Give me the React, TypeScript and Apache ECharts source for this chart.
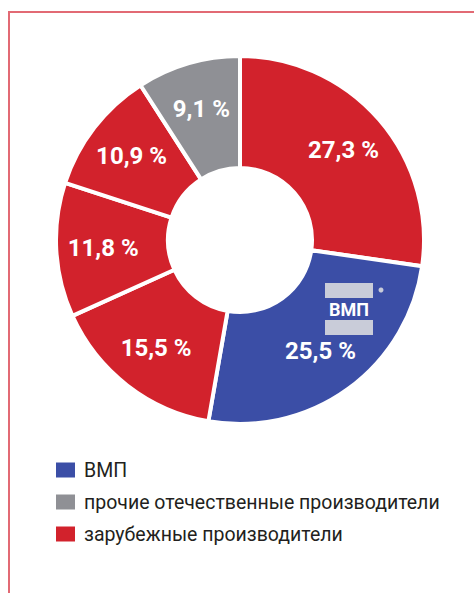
import React, { useEffect, useRef } from "react";
import * as echarts from "echarts";

const sliceNames = [
  "зарубежные производители",
  "ВМП",
  "зарубежные производители",
  "зарубежные производители",
  "зарубежные производители",
  "прочие отечественные производители",
];
const sliceValues = [27.3, 25.5, 15.5, 11.8, 10.9, 9.1];
const legendNames = ["ВМП", "прочие отечественные производители", "зарубежные производители"];
const groupColors: Record<string, string> = {
  "ВМП": "#3b4ea6",
  "прочие отечественные производители": "#8f9095",
  "зарубежные производители": "#d2222c",
};

const FONT = "Roboto, 'Noto Sans', sans-serif";

export default function App() {
  const ref = useRef<HTMLDivElement>(null);
  useEffect(() => {
    if (!ref.current) return;
    const chart = echarts.init(ref.current, undefined, { renderer: "svg" });
    const data = sliceValues.map((v, i) => ({
      name: sliceNames[i],
      value: v,
      itemStyle: { color: groupColors[sliceNames[i]] },
    }));
    const fmt = (p: any) => String(p.value).replace(".", ",") + " %";
    chart.setOption({
      animation: false,
      backgroundColor: "#ffffff",
      legend: {
        orient: "vertical",
        left: 49,
        top: 455,
        data: legendNames,
        itemWidth: 21,
        itemHeight: 17,
        itemGap: 12,
        icon: "rect",
        selectedMode: false,
        textStyle: { fontFamily: FONT, fontSize: 19.5, color: "#231f20", padding: [0, 0, 0, 3] },
      },
      series: [
        {
          type: "pie",
          center: [240, 240],
          radius: [72, 184],
          startAngle: 90,
          clockwise: true,
          silent: true,
          data,
          itemStyle: { borderColor: "#ffffff", borderWidth: 4 },
          label: { show: false },
          labelLine: { show: false },
        },
        {
          type: "pie",
          center: [240, 240],
          radius: [84, 184],
          startAngle: 90,
          clockwise: true,
          silent: true,
          data: sliceValues.map((v, i) => ({ name: sliceNames[i], value: v })),
          itemStyle: { color: "rgba(0,0,0,0)", borderWidth: 0 },
          label: {
            show: true,
            position: "inside",
            formatter: fmt,
            color: "#ffffff",
            fontFamily: FONT,
            fontWeight: "bold",
            fontSize: 24,
          },
          labelLine: { show: false },
        },
      ],
      graphic: [
        {
          type: "rect",
          z: 100,
          shape: { x: 9, y: 12, width: 520, height: 620 },
          style: { fill: "none", stroke: "#e26a74", lineWidth: 2 },
          silent: true,
        },
        {
          type: "group",
          silent: true,
          z: 100,
          children: [
            { type: "rect", z: 100, shape: { x: 325, y: 283, width: 48, height: 15 }, style: { fill: "#c9ccd9" } },
            {
              type: "text",
              z: 100,
              x: 349,
              y: 309,
              style: {
                text: "ВМП",
                fill: "#ffffff",
                font: "bold 18px " + FONT,
                align: "center",
                verticalAlign: "middle",
              },
            },
            { type: "rect", z: 100, shape: { x: 325, y: 320, width: 48, height: 15 }, style: { fill: "#c9ccd9" } },
            { type: "circle", z: 100, shape: { cx: 381, cy: 290, r: 2.5 }, style: { fill: "#c9ccd9" } },
          ],
        },
      ],
    });
    return () => chart.dispose();
  }, []);
  return (
    <div
      ref={ref}
      style={{ position: "fixed", left: 0, top: 0, width: 474, height: 593 }}
    />
  );
}
